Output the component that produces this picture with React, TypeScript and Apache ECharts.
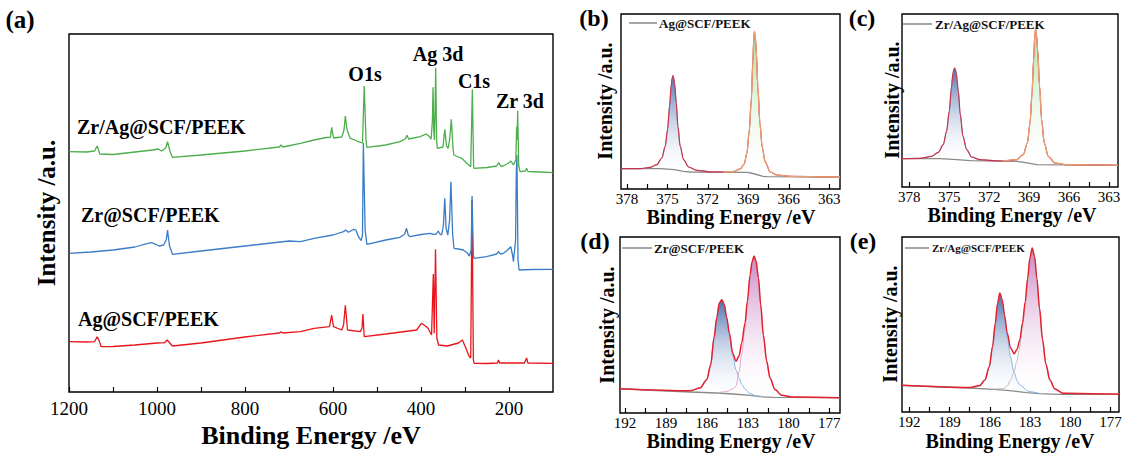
import React, { useEffect, useRef } from "react";
import * as echarts from "echarts";

const FONT = "Liberation Serif, Times New Roman, serif";

// ---------- Panel (a): XPS survey spectra [binding energy eV, intensity a.u.] ----------
const surveyTicks = [1200, 1100, 1000, 900, 800, 700, 600, 500, 400, 300, 200];
const surveyLabels = [1200, 1000, 800, 600, 400, 200];

const surveyZrAg: number[][] = [
  [1200, 240.3], [1160, 240], [1142, 241], [1136, 246], [1130, 238], [1100, 237.5], [1050, 240],
  [1010, 242], [997, 243], [990, 241], [980, 244], [976, 250.3], [970, 240], [965, 234.7],
  [900, 237], [800, 241], [722, 245], [718, 247], [714, 245], [674, 248.7], [643, 252],
  [615, 254.5], [606, 254.7], [603, 264.7], [599, 254], [580, 255], [575, 262], [572, 276],
  [568, 262], [561, 253.7], [550, 252], [543, 250.3], [533, 249], [529, 306], [525, 252],
  [523, 244.7], [480, 247], [448, 250.3], [436, 253], [432, 256.7], [428, 253], [402, 255.3],
  [388, 258], [380, 255], [377, 252.7], [374, 272], [372.6, 304.7], [371, 262], [369.6, 252],
  [368, 282], [366.6, 324.3], [364.5, 252], [363, 243.7], [350, 245], [346, 262.7], [342, 246],
  [338.5, 243.7], [335, 252], [331, 272.7], [327, 242], [325, 237], [315, 235], [307.4, 233.7],
  [296, 228.7], [287, 225.3], [283.3, 302.7], [280.5, 226], [279.5, 223.7], [250, 224.5],
  [228, 226], [223.4, 229.3], [219, 226], [213, 226], [201.6, 228.7], [195.5, 231], [190, 227],
  [184.5, 232], [182.6, 265.3], [181.5, 252], [180.3, 281.3], [178, 227], [175, 220.3],
  [163, 221], [160, 223.7], [157, 220.5], [130, 220], [100, 219.3],
];

const surveyZr: number[][] = [
  [1200, 138.7], [1150, 140], [1100, 142], [1050, 145], [1021, 148.7], [1012, 149.3], [1000, 147],
  [995, 146], [985, 147], [979, 152], [976, 162], [972, 147], [965, 137.7], [900, 141], [800, 146],
  [700, 151], [674, 150.3], [643, 153.7], [600, 157], [576, 160.3], [571, 162], [565, 159.7],
  [553, 162.7], [548, 162], [542, 155.3], [536, 151.3], [533, 157], [531, 249], [527, 162],
  [523, 147.7], [480, 152], [448, 154.7], [437, 158], [433, 163.7], [429, 157], [425, 155.3],
  [400, 157.5], [379, 158.7], [372, 157.7], [365, 158], [361, 161], [357, 158], [353, 157],
  [349, 167], [346, 193.7], [343, 164], [339, 157], [335, 172], [332, 210.3], [328, 157],
  [325, 143.7], [315, 143], [304, 142], [295, 139], [290, 136], [286, 142], [284, 196],
  [281, 137], [279.5, 133.7], [251, 135.3], [228, 138], [224, 140.3], [219, 138], [213, 138.7],
  [205, 141.3], [196, 145.3], [192, 137], [190, 130.3], [185, 152], [183.5, 217], [182, 237],
  [179.5, 132], [177, 122], [150, 122.5], [100, 122.7],
];

const surveyAg: number[][] = [
  [1200, 50.3], [1160, 50], [1142, 50.3], [1136, 55.3], [1132, 52], [1127, 45.3], [1100, 45.5],
  [1050, 47], [1000, 49], [983, 49.3], [977, 52], [965, 46], [900, 49], [800, 55], [722, 59],
  [718, 60.3], [714, 59], [674, 60.3], [643, 63.7], [608, 65.3], [603, 77], [599, 65.3],
  [580, 62], [576, 67], [572, 86.7], [567, 62], [538, 60.3], [534, 64], [532, 78], [529, 55.3],
  [480, 58], [410, 62], [399, 68.7], [390, 66], [384, 63.7], [376, 57], [372, 118], [370, 58.7],
  [367, 142.7], [364, 54], [360, 47], [340, 46], [315, 49], [306, 52], [298, 44], [291, 36],
  [287, 34], [284, 192], [281, 32], [279, 28.7], [250, 28.5], [226, 29], [224, 32], [221, 29],
  [165, 29], [160, 34], [157, 29], [100, 28.7],
];

// ---------- Ag 3d high resolution ----------
const agTicks = [378, 376.5, 375, 373.5, 372, 370.5, 369, 367.5, 366, 364.5, 363];
const agLabels = [378, 375, 372, 369, 366, 363];

// (b) Ag@SCF/PEEK
const bgB: number[][] = [
  [378.44, 20.3], [375.5, 20.3], [374.5, 19.3], [373.8, 17.7], [373.3, 17], [369.1, 16.7],
  [368.8, 16], [367.9, 12.7], [367.6, 12.3], [362.2, 12],
];
const ag52B: number[][] = [
  [378.44, 20.3], [377.0, 20.3], [376.27, 21.7], [375.78, 24.3], [375.41, 31], [375.16, 42.7],
  [374.99, 59.3], [374.84, 82.7], [374.71, 104.3], [374.65, 110.5], [374.59, 113.3],
  [374.53, 111], [374.47, 106], [374.34, 86], [374.22, 62.7], [374.05, 42.7], [373.8, 29.3],
  [373.43, 22], [372.81, 18.7], [371.82, 17.2],
];
const ag32B: number[][] = [
  [370.83, 17], [370.09, 17.5], [369.6, 20], [369.3, 25], [369.1, 36], [368.93, 58],
  [368.78, 89], [368.66, 128], [368.6, 148], [368.54, 157.7], [368.47, 150], [368.41, 138],
  [368.29, 102], [368.14, 66], [367.97, 42], [367.75, 27], [367.37, 17], [366.88, 14],
  [365.9, 12.7], [362.2, 12],
];

// (c) Zr/Ag@SCF/PEEK
const bgC: number[][] = [
  [378.55, 28.3], [375.7, 28.3], [374.7, 27.7], [373.4, 26.3], [369.9, 25.7], [369.4, 24.7],
  [368.4, 22.3], [362.32, 21.7],
];
const ag52C: number[][] = [
  [378.55, 28.3], [377.2, 28.7], [376.32, 30.7], [375.82, 34.7], [375.45, 42.3], [375.2, 55.7],
  [375.0, 75.7], [374.84, 99], [374.72, 114], [374.65, 117.5], [374.59, 119], [374.53, 117],
  [374.47, 113.3], [374.32, 95.7], [374.17, 72.3], [373.97, 50.7], [373.69, 37.3],
  [373.32, 30], [372.69, 27.3], [371.69, 26.3],
];
const ag32C: number[][] = [
  [370.94, 26], [369.94, 27.3], [369.44, 32.3], [369.13, 44], [368.93, 64], [368.78, 94],
  [368.66, 127.3], [368.58, 150], [368.51, 158], [368.44, 152], [368.36, 137.3], [368.21, 100.7],
  [368.06, 67.3], [367.86, 44], [367.56, 30.7], [367.06, 24], [366.18, 22.3], [362.32, 21.7],
];

// ---------- Zr 3d high resolution ----------
const zrTicks = [192, 190.5, 189, 187.5, 186, 184.5, 183, 181.5, 180, 178.5, 177];
const zrLabels = [192, 189, 186, 183, 180, 177];

// (d) Zr@SCF/PEEK
const bgD: number[][] = [
  [192.37, 24.3], [189.68, 22.3], [187.23, 21], [185.27, 20], [184.05, 19], [182.82, 17.7],
  [182.09, 16.3], [181.11, 15.7], [176.22, 15.3],
];
const zr32D: number[][] = [
  [192.37, 24.3], [188.45, 22.3], [187.23, 22.3], [186.5, 25], [186.0, 33.3], [185.71, 48.3],
  [185.47, 75], [185.27, 95], [185.08, 110], [184.9, 113.3], [184.71, 108.3], [184.54, 95],
  [184.34, 78], [184.1, 57], [183.85, 43], [183.63, 35], [183.44, 29], [183.19, 24],
  [182.82, 19.5], [182.33, 17], [181.85, 16.3],
];
const zr52D: number[][] = [
  [185.27, 20], [184.54, 21.5], [184.1, 24], [183.85, 27], [183.63, 41], [183.44, 59],
  [183.19, 85], [183.02, 108], [182.82, 136], [182.68, 150], [182.53, 156.7], [182.38, 151.7],
  [182.21, 135], [182.04, 108.3], [181.85, 78.3], [181.6, 51.7], [181.36, 35], [180.99, 23.3],
  [180.5, 17.7], [179.64, 16], [176.22, 15.3],
];
const envD: number[][] = [
  [192.37, 24.3], [187.23, 22.3], [186.5, 25], [186.0, 33.3], [185.71, 48.3], [185.47, 75],
  [185.27, 95], [185.08, 110], [184.9, 113.3], [184.71, 108.5], [184.54, 95.5], [184.34, 80],
  [184.1, 60], [183.85, 51.7], [183.63, 57], [183.44, 70], [183.19, 90], [183.02, 112],
  [182.82, 138], [182.68, 151], [182.53, 157], [182.38, 152], [182.21, 135], [182.04, 108.3],
  [181.85, 78.3], [181.6, 51.7], [181.36, 35], [180.99, 23.5], [180.5, 17.7], [179.64, 16],
  [176.22, 15.3],
];

// (e) Zr/Ag@SCF/PEEK
const bgE: number[][] = [
  [192.54, 26.7], [189.47, 25], [187.48, 24], [185.74, 22.7], [184.5, 21.3], [183.26, 19.3],
  [182.27, 18.3], [180.78, 17.7], [176.37, 17.7],
];
const zr32E: number[][] = [
  [192.54, 26.7], [188.23, 24.5], [187.23, 24.3], [186.74, 26.3], [186.36, 32], [186.04, 45],
  [185.79, 65], [185.59, 88], [185.42, 108], [185.25, 118.3], [185.07, 111], [184.9, 95],
  [184.7, 75], [184.45, 55], [184.2, 40], [183.95, 31], [183.76, 27], [183.13, 20.7],
  [182.27, 18.3],
];
const zr52E: number[][] = [
  [185.74, 22.7], [185.0, 23.5], [184.7, 26], [184.45, 32], [184.2, 40], [184.0, 50],
  [183.81, 62], [183.56, 85], [183.36, 108], [183.18, 132], [183.01, 153], [182.84, 163.3],
  [182.66, 155], [182.49, 133], [182.29, 103], [182.07, 72], [181.82, 48], [181.52, 32],
  [181.15, 23], [180.53, 18.7], [176.37, 17.7],
];
const envE: number[][] = [
  [192.54, 26.7], [187.48, 24.5], [186.74, 26.5], [186.36, 32], [186.04, 45], [185.79, 65.5],
  [185.59, 88.5], [185.42, 108.5], [185.25, 119], [185.07, 112], [184.9, 97], [184.7, 79],
  [184.45, 64], [184.18, 58.3], [183.96, 63], [183.76, 72], [183.56, 89], [183.36, 110],
  [183.18, 133.5], [183.01, 154], [182.84, 164], [182.66, 155.5], [182.49, 133.5],
  [182.29, 103.5], [182.07, 72.5], [181.82, 48], [181.52, 32], [181.15, 23], [180.53, 18.7],
  [176.37, 17.7],
];

// ---------- helpers ----------
function grad(top: string, bottom: string) {
  return new echarts.graphic.LinearGradient(0, 0, 0, 1, [
    { offset: 0, color: top },
    { offset: 1, color: bottom },
  ]);
}

function fillSeries(idx: number, comp: number[][], bg: number[][], top: string, bottom: string) {
  return {
    type: "custom",
    coordinateSystem: "cartesian2d",
    xAxisIndex: idx,
    yAxisIndex: idx,
    silent: true,
    z: 1,
    data: [comp[0]],
    renderItem: (_params: any, api: any) => {
      const a = comp[0][0];
      const b = comp[comp.length - 1][0];
      const lo = Math.min(a, b);
      const hi = Math.max(a, b);
      const upper = comp.map((p) => api.coord(p));
      const lower = bg
        .filter((p) => p[0] > lo && p[0] < hi)
        .map((p) => api.coord(p))
        .reverse();
      return {
        type: "polygon",
        shape: { points: upper.concat(lower) },
        style: { fill: grad(top, bottom), stroke: "none" },
      };
    },
  };
}

function lineSeries(idx: number, data: number[][], color: string, width: number, z: number, smooth = 0) {
  return {
    type: "line",
    xAxisIndex: idx,
    yAxisIndex: idx,
    data,
    symbol: "none",
    showSymbol: false,
    smooth,
    smoothMonotone: "x",
    silent: true,
    z,
    lineStyle: { color, width },
  };
}

function xAxisDef(idx: number, min: number, max: number, ticks: number[], labels: number[], fs: number, margin: number) {
  return {
    type: "value",
    gridIndex: idx,
    min,
    max,
    inverse: true,
    axisLine: { show: false },
    splitLine: { show: false },
    axisTick: {
      show: true,
      inside: true,
      length: 5,
      customValues: ticks,
      lineStyle: { color: "#000", width: 1.2 },
    },
    axisLabel: {
      show: true,
      customValues: labels,
      fontSize: fs,
      fontFamily: FONT,
      color: "#000",
      margin,
      formatter: (v: number) => String(v),
    },
  };
}

function txt(x: number, y: number, text: string, size: number, align = "center", rotate = 0, bold = true) {
  return {
    type: "text",
    x,
    y,
    rotation: rotate,
    silent: true,
    z: 100,
    style: {
      text,
      fontFamily: FONT,
      fontSize: size,
      fontWeight: bold ? "bold" : "normal",
      fill: "#000",
      align,
      verticalAlign: "middle",
    },
  };
}

function legendItem(x0: number, x1: number, y: number, tx: number, text: string, size: number) {
  return [
    {
      type: "line",
      silent: true,
      z: 100,
      shape: { x1: x0, y1: y, x2: x1, y2: y },
      style: { stroke: "#8a8a8a", lineWidth: 1.5 },
    },
    {
      type: "text",
      x: tx,
      y,
      silent: true,
      z: 100,
      style: {
        text,
        fontFamily: FONT,
        fontSize: size,
        fontWeight: "bold",
        fill: "#111",
        align: "left",
        verticalAlign: "middle",
      },
    },
  ];
}

export default function App() {
  const ref = useRef<HTMLDivElement>(null);

  useEffect(() => {
    if (!ref.current) return;
    const chart = echarts.init(ref.current, undefined, { renderer: "svg" });
    const border = {
      show: true,
      borderColor: "#000",
      borderWidth: 1.4,
      backgroundColor: "transparent",
      containLabel: false,
      outerBoundsMode: "none",
    };

    const option: any = {
      animation: false,
      backgroundColor: "#fff",
      grid: [
        { left: 69, top: 34, width: 484, height: 358, ...border },
        { left: 621, top: 14, width: 219, height: 175, ...border },
        { left: 902, top: 14, width: 216, height: 173, ...border },
        { left: 620, top: 237, width: 220, height: 176, ...border },
        { left: 902, top: 237, width: 217, height: 175, ...border },
      ],
      xAxis: [
        xAxisDef(0, 100, 1200, surveyTicks, surveyLabels, 19, 7),
        xAxisDef(1, 362.2, 378.44, agTicks, agLabels, 15, 2),
        xAxisDef(2, 362.32, 378.55, agTicks, agLabels, 15, 2),
        xAxisDef(3, 176.22, 192.37, zrTicks, zrLabels, 15, 2),
        xAxisDef(4, 176.37, 192.54, zrTicks, zrLabels, 15, 2),
      ],
      yAxis: [
        { type: "value", gridIndex: 0, min: 0, max: 358, show: false },
        { type: "value", gridIndex: 1, min: 0, max: 175, show: false },
        { type: "value", gridIndex: 2, min: 0, max: 173, show: false },
        { type: "value", gridIndex: 3, min: 0, max: 176, show: false },
        { type: "value", gridIndex: 4, min: 0, max: 175, show: false },
      ],
      series: [
        // (a)
        lineSeries(0, surveyAg, "#e8161c", 1.3, 3),
        lineSeries(0, surveyZr, "#3a7dc6", 1.3, 4),
        lineSeries(0, surveyZrAg, "#4cae4c", 1.3, 5),
        // (b)
        fillSeries(1, ag52B, bgB, "rgba(62,104,172,0.95)", "rgba(255,255,255,0.1)"),
        fillSeries(1, ag32B, bgB, "rgba(160,222,150,0.95)", "rgba(255,255,255,0.1)"),
        lineSeries(1, bgB, "#8a8a8a", 1.3, 3),
        lineSeries(1, ag52B, "#7fa6d8", 1, 4, 0.3),
        lineSeries(1, [...ag52B, ...ag32B], "#cc3348", 1.2, 5, 0.3),
        lineSeries(1, ag32B, "#e9a071", 1.3, 6, 0.3),
        // (c)
        fillSeries(2, ag52C, bgC, "rgba(62,104,172,0.95)", "rgba(255,255,255,0.1)"),
        fillSeries(2, ag32C, bgC, "rgba(160,222,150,0.95)", "rgba(255,255,255,0.1)"),
        lineSeries(2, bgC, "#8a8a8a", 1.3, 3),
        lineSeries(2, ag52C, "#7fa6d8", 1, 4, 0.3),
        lineSeries(2, [...ag52C, ...ag32C], "#cc3348", 1.2, 5, 0.3),
        lineSeries(2, ag32C, "#e9a071", 1.3, 6, 0.3),
        // (d)
        fillSeries(3, zr32D, bgD, "rgba(62,104,172,0.95)", "rgba(255,255,255,0.1)"),
        fillSeries(3, zr52D, bgD, "rgba(196,120,190,0.9)", "rgba(255,255,255,0.1)"),
        lineSeries(3, bgD, "#8a8a8a", 1.3, 3),
        lineSeries(3, zr32D, "#86b6e2", 1, 4, 0.3),
        lineSeries(3, zr52D, "#e4a6cc", 1, 4, 0.3),
        lineSeries(3, envD, "#e3202c", 1.5, 6, 0.3),
        // (e)
        fillSeries(4, zr32E, bgE, "rgba(62,104,172,0.95)", "rgba(255,255,255,0.1)"),
        fillSeries(4, zr52E, bgE, "rgba(196,120,190,0.9)", "rgba(255,255,255,0.1)"),
        lineSeries(4, bgE, "#8a8a8a", 1.3, 3),
        lineSeries(4, zr32E, "#86b6e2", 1, 4, 0.3),
        lineSeries(4, zr52E, "#c0c0c0", 1, 4, 0.3),
        lineSeries(4, envE, "#e3202c", 1.5, 6, 0.3),
      ],
      graphic: [
        txt(20, 19, "(a)", 25),
        txt(594, 18, "(b)", 24),
        txt(862, 18, "(c)", 24),
        txt(595, 241, "(d)", 24),
        txt(863, 241, "(e)", 24),
        // panel (a) annotations
        txt(77, 127, "Zr/Ag@SCF/PEEK", 20, "left"),
        txt(81, 215, "Zr@SCF/PEEK", 20, "left"),
        txt(78, 319, "Ag@SCF/PEEK", 20, "left"),
        txt(365, 74, "O1s", 20),
        txt(438, 54, "Ag 3d", 20),
        txt(474, 81, "C1s", 20),
        txt(520, 101, "Zr 3d", 20),
        // axis titles
        txt(311, 435, "Binding Energy /eV", 26),
        txt(46, 213, "Intensity /a.u.", 25, "center", Math.PI / 2),
        txt(731, 217, "Binding Energy /eV", 20),
        txt(1012, 215, "Binding Energy /eV", 20),
        txt(731, 441, "Binding Energy /eV", 20),
        txt(1010, 441, "Binding Energy /eV", 20),
        txt(605, 101, "Intensity /a.u.", 20, "center", Math.PI / 2),
        txt(892, 100, "Intensity /a.u.", 20, "center", Math.PI / 2),
        txt(607, 325, "Intensity /a.u.", 20, "center", Math.PI / 2),
        txt(890, 324, "Intensity /a.u.", 20, "center", Math.PI / 2),
        // legends
        ...legendItem(629, 657, 23, 659, "Ag@SCF/PEEK", 13),
        ...legendItem(903, 932, 24, 935, "Zr/Ag@SCF/PEEK", 13),
        ...legendItem(622, 652, 248, 654, "Zr@SCF/PEEK", 13),
        ...legendItem(905, 929, 248, 932, "Zr/Ag@SCF/PEEK", 11),
      ],
    };

    chart.setOption(option);
    return () => chart.dispose();
  }, []);

  return (
    <div
      ref={ref}
      style={{ position: "fixed", left: 0, top: 0, width: 1122, height: 453, background: "#fff" }}
    />
  );
}
